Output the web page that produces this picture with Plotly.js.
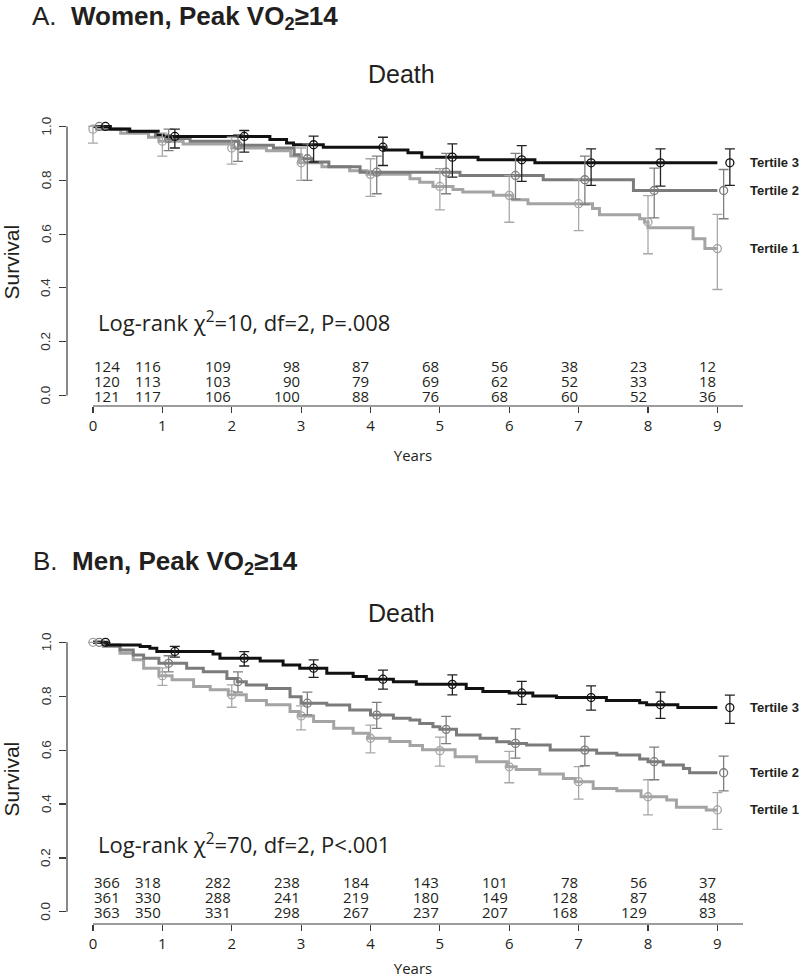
<!DOCTYPE html>
<html>
<head>
<meta charset="utf-8">
<script src="https://cdn.plot.ly/plotly-3.0.1.min.js"></script>
<style>
  html, body { margin: 0; padding: 0; background: #ffffff; }
  #chart { width: 800px; height: 978px; }
</style>
</head>
<body>
<div id="chart"></div>
<script>
// ---------------- DATA ----------------
const years = [0, 1, 2, 3, 4, 5, 6, 7, 8, 9];
const tertileNames = ["Tertile 1", "Tertile 2", "Tertile 3"];

// Panel A: Women — Kaplan-Meier step curves (time in years, survival)
const womenT1Time = [0, 0.05, 0.4, 0.8, 0.95, 1.3, 2.0, 2.5, 2.85, 2.97, 3.3, 3.7, 3.95, 4.57, 4.71, 4.9, 5.19, 5.33, 5.77, 6.05, 6.27, 7.2, 7.3, 7.88, 7.95, 8.0, 8.65, 8.82, 9.0];
const womenT1Surv = [1, 0.99, 0.975, 0.96, 0.945, 0.935, 0.92, 0.91, 0.89, 0.865, 0.85, 0.835, 0.822, 0.806, 0.793, 0.777, 0.766, 0.756, 0.744, 0.728, 0.713, 0.695, 0.672, 0.657, 0.645, 0.624, 0.583, 0.546, 0.546];
const womenT2Time = [0, 0.15, 0.5, 0.9, 1.05, 1.4, 2.1, 2.6, 2.9, 3.0, 3.15, 3.4, 3.85, 5.29, 6.49, 7.79, 9.0];
const womenT2Surv = [1, 0.99, 0.98, 0.965, 0.955, 0.945, 0.93, 0.92, 0.895, 0.88, 0.868, 0.85, 0.83, 0.818, 0.802, 0.762, 0.762];
const womenT3Time = [0, 0.25, 0.53, 0.94, 1.01, 2.55, 2.79, 2.89, 3.32, 4.2, 4.54, 4.74, 5.55, 6.37, 9.0];
const womenT3Surv = [1, 0.991, 0.982, 0.97, 0.963, 0.952, 0.939, 0.932, 0.923, 0.913, 0.902, 0.886, 0.876, 0.865, 0.865];

// Panel A: yearly estimates with confidence limits
const womenT1Est = [0.99, 0.945, 0.92, 0.865, 0.822, 0.777, 0.744, 0.713, 0.645, 0.546];
const womenT1Upper = [1.0, 0.975, 0.96, 0.92, 0.88, 0.843, 0.817, 0.805, 0.743, 0.673];
const womenT1Lower = [0.938, 0.89, 0.86, 0.80, 0.74, 0.69, 0.644, 0.613, 0.527, 0.394];
const womenT2Est = [1.0, 0.955, 0.93, 0.88, 0.83, 0.83, 0.818, 0.802, 0.762, 0.762];
const womenT2Upper = [1.0, 0.99, 0.97, 0.935, 0.89, 0.90, 0.90, 0.89, 0.845, 0.84];
const womenT2Lower = [1.0, 0.91, 0.87, 0.80, 0.75, 0.75, 0.73, 0.71, 0.66, 0.657];
const womenT3Est = [1.0, 0.963, 0.963, 0.932, 0.923, 0.886, 0.876, 0.865, 0.865, 0.865];
const womenT3Upper = [1.0, 0.99, 0.985, 0.964, 0.96, 0.935, 0.929, 0.917, 0.917, 0.917];
const womenT3Lower = [1.0, 0.92, 0.905, 0.868, 0.855, 0.812, 0.796, 0.781, 0.778, 0.781];

// Panel A: numbers at risk
const womenRisk1 = [124, 116, 109, 98, 87, 68, 56, 38, 23, 12];
const womenRisk2 = [120, 113, 103, 90, 79, 69, 62, 52, 33, 18];
const womenRisk3 = [121, 117, 106, 100, 88, 76, 68, 60, 52, 36];

// Panel B: Men — Kaplan-Meier step curves
const menT1Time = [0, 0.15, 0.39, 0.58, 0.73, 0.95, 1.14, 1.45, 1.69, 1.95, 2.21, 2.5, 2.84, 2.97, 3.18, 3.47, 3.75, 3.97, 4.28, 4.57, 4.75, 5.22, 5.53, 5.97, 6.1, 6.44, 6.78, 6.95, 7.21, 7.55, 7.9, 8.27, 8.41, 8.84, 9.0];
const menT1Surv = [1, 0.984, 0.959, 0.935, 0.904, 0.876, 0.861, 0.836, 0.824, 0.805, 0.784, 0.768, 0.743, 0.727, 0.706, 0.681, 0.663, 0.644, 0.632, 0.617, 0.601, 0.575, 0.557, 0.538, 0.528, 0.511, 0.495, 0.483, 0.458, 0.449, 0.427, 0.415, 0.388, 0.378, 0.378];
const menT2Time = [0, 0.15, 0.39, 0.58, 0.73, 0.95, 1.35, 1.59, 1.93, 2.08, 2.21, 2.5, 2.84, 3.0, 3.37, 3.7, 4.0, 4.33, 4.57, 4.71, 4.9, 5.0, 5.24, 5.58, 5.82, 6.0, 6.25, 6.59, 7.26, 7.55, 7.88, 8.0, 8.22, 8.51, 8.6, 9.0];
const menT2Surv = [1, 0.99, 0.971, 0.953, 0.941, 0.922, 0.904, 0.891, 0.866, 0.854, 0.842, 0.829, 0.798, 0.774, 0.767, 0.749, 0.730, 0.718, 0.712, 0.699, 0.687, 0.677, 0.656, 0.644, 0.631, 0.625, 0.619, 0.600, 0.588, 0.582, 0.567, 0.557, 0.545, 0.532, 0.516, 0.516];
const menT3Time = [0, 0.2, 0.68, 0.82, 0.92, 1.73, 1.83, 2.41, 2.74, 2.98, 3.37, 3.75, 3.94, 4.33, 4.66, 5.38, 5.62, 6.0, 6.34, 6.68, 7.4, 7.88, 7.98, 8.43, 9.0];
const menT3Surv = [1, 0.99, 0.984, 0.978, 0.966, 0.957, 0.941, 0.931, 0.916, 0.904, 0.885, 0.873, 0.863, 0.854, 0.844, 0.829, 0.817, 0.812, 0.801, 0.795, 0.784, 0.776, 0.768, 0.758, 0.758];

// Panel B: yearly estimates with confidence limits
const menT1Est = [1.0, 0.876, 0.805, 0.727, 0.644, 0.598, 0.538, 0.483, 0.427, 0.378];
const menT1Upper = [1.0, 0.905, 0.842, 0.764, 0.693, 0.648, 0.595, 0.539, 0.490, 0.442];
const menT1Lower = [1.0, 0.84, 0.759, 0.675, 0.590, 0.541, 0.479, 0.418, 0.360, 0.306];
const menT2Est = [1.0, 0.922, 0.854, 0.774, 0.730, 0.677, 0.625, 0.600, 0.557, 0.516];
const menT2Upper = [1.0, 0.95, 0.89, 0.815, 0.777, 0.725, 0.679, 0.651, 0.611, 0.578];
const menT2Lower = [1.0, 0.89, 0.815, 0.731, 0.681, 0.624, 0.570, 0.542, 0.490, 0.449];
const menT3Est = [1.0, 0.966, 0.941, 0.904, 0.863, 0.844, 0.812, 0.795, 0.768, 0.758];
const menT3Upper = [1.0, 0.985, 0.965, 0.935, 0.897, 0.879, 0.855, 0.838, 0.815, 0.804];
const menT3Lower = [1.0, 0.945, 0.912, 0.87, 0.826, 0.805, 0.77, 0.748, 0.718, 0.699];

// Panel B: numbers at risk
const menRisk1 = [366, 318, 282, 238, 184, 143, 101, 78, 56, 37];
const menRisk2 = [361, 330, 288, 241, 219, 180, 149, 128, 87, 48];
const menRisk3 = [363, 350, 331, 298, 267, 237, 207, 168, 129, 83];

const yTickVals = [0, 0.2, 0.4, 0.6, 0.8, 1.0];
const yTickText = ["0.0", "0.2", "0.4", "0.6", "0.8", "1.0"];

// ---------------- STYLE ----------------
const lineColors = ["#a4a4a4", "#7b7b7b", "#111111"];
const barColors = ["#a8a8a8", "#7e7e7e", "#222222"];
const markOffset = [0, 0.09, 0.18];
const textColor = "#231f20";
const arial = "Liberation Sans, Arial, sans-serif";
const myriad = "Open Sans, sans-serif";

function panelTraces(curves, ests, xa, ya) {
  const traces = [];
  curves.forEach((c, i) => {
    traces.push({
      type: "scatter", mode: "lines", x: c.t, y: c.s, xaxis: xa, yaxis: ya,
      line: { shape: "hv", color: lineColors[i], width: 3 },
      name: tertileNames[i], showlegend: false, hoverinfo: "skip"
    });
  });
  ests.forEach((e, i) => {
    traces.push({
      type: "scatter", mode: "markers",
      x: years.map(v => v + markOffset[i]), y: e.est, xaxis: xa, yaxis: ya,
      marker: { symbol: "circle-open", size: 8, color: lineColors[i], line: { width: 1.3, color: barColors[i] } },
      error_y: {
        type: "data", symmetric: false,
        array: e.up.map((u, k) => u - e.est[k]),
        arrayminus: e.lo.map((l, k) => e.est[k] - l),
        color: barColors[i], thickness: 1.3, width: 5
      },
      cliponaxis: false, showlegend: false, hoverinfo: "skip"
    });
  });
  return traces;
}

const traces = [].concat(
  panelTraces(
    [{ t: womenT1Time, s: womenT1Surv }, { t: womenT2Time, s: womenT2Surv }, { t: womenT3Time, s: womenT3Surv }],
    [{ est: womenT1Est, up: womenT1Upper, lo: womenT1Lower },
     { est: womenT2Est, up: womenT2Upper, lo: womenT2Lower },
     { est: womenT3Est, up: womenT3Upper, lo: womenT3Lower }],
    "x", "y"),
  panelTraces(
    [{ t: menT1Time, s: menT1Surv }, { t: menT2Time, s: menT2Surv }, { t: menT3Time, s: menT3Surv }],
    [{ est: menT1Est, up: menT1Upper, lo: menT1Lower },
     { est: menT2Est, up: menT2Upper, lo: menT2Lower },
     { est: menT3Est, up: menT3Upper, lo: menT3Lower }],
    "x2", "y2")
);

// ---------------- ANNOTATIONS ----------------
const annotations = [];
function riskRows(rows, xref, yref) {
  const levels = [0.109, 0.0545, 0.0];
  rows.forEach((row, r) => {
    row.forEach((n, k) => {
      annotations.push({
        xref: xref, yref: yref, x: years[k], y: levels[r],
        text: String(n), showarrow: false,
        xanchor: k === 0 ? "left" : "right", yanchor: "middle",
        font: { family: myriad, size: 15, color: textColor }, borderpad: 0
      });
    });
  });
}
riskRows([womenRisk1, womenRisk2, womenRisk3], "x", "y");
riskRows([menRisk1, menRisk2, menRisk3], "x2", "y2");

function tertileLabels(finals, xref, yref) {
  finals.forEach((v, i) => {
    annotations.push({
      xref: xref, yref: yref, x: 9.44, y: v, text: "<b>" + tertileNames[i] + "</b>",
      showarrow: false, xanchor: "left", yanchor: "middle",
      font: { family: arial, size: 13, color: textColor }
    });
  });
}
tertileLabels([womenT1Est[9], womenT2Est[9], womenT3Est[9]], "x", "y");
tertileLabels([menT1Est[9], menT2Est[9], menT3Est[9]], "x2", "y2");

function yTickLabels(yref) {
  yTickVals.forEach((v, i) => {
    annotations.push({
      xref: "paper", yref: yref, x: 46 / 800, y: v, text: yTickText[i],
      textangle: -90, showarrow: false, xanchor: "center", yanchor: "middle",
      font: { family: arial, size: 13.5, color: "#333333" }, borderpad: 0
    });
  });
}
yTickLabels("y");
yTickLabels("y2");

annotations.push(
  { xref: "x", yref: "y", x: 0.05, y: 0.275, text: "Log-rank χ<sup>2</sup>=10, df=2, P=.008", showarrow: false,
    xanchor: "left", yanchor: "middle", font: { family: myriad, size: 22, color: textColor } },
  { xref: "x2", yref: "y2", x: 0.05, y: 0.255, text: "Log-rank χ<sup>2</sup>=70, df=2, P<.001", showarrow: false,
    xanchor: "left", yanchor: "middle", font: { family: myriad, size: 22, color: textColor } },
  { xref: "paper", yref: "paper", x: 401 / 800, y: 1 - 74 / 978, text: "Death", showarrow: false,
    xanchor: "center", yanchor: "middle", font: { family: arial, size: 25, color: textColor } },
  { xref: "paper", yref: "paper", x: 401 / 800, y: 1 - 613 / 978, text: "Death", showarrow: false,
    xanchor: "center", yanchor: "middle", font: { family: arial, size: 25, color: textColor } },
  { xref: "paper", yref: "paper", x: 31 / 800, y: 1,
    text: "A.  <b>Women, Peak VO<sub>2</sub>≥14</b>", showarrow: false, borderpad: 0,
    xanchor: "left", yanchor: "top", font: { family: arial, size: 26, color: textColor } },
  { xref: "paper", yref: "paper", x: 31 / 800, y: 1 - 562 / 978,
    text: "B.  <b>Men, Peak VO<sub>2</sub>≥14</b>", showarrow: false,
    xanchor: "left", yanchor: "middle", font: { family: arial, size: 26, color: textColor } }
);

// ---------------- AXES ----------------
const axisLine = { color: "#3a3a3a", width: 1.2 };
function xAxis(anchor) {
  return {
    anchor: anchor, domain: [67 / 800, 759 / 800], range: [-0.3746, 9.6],
    tickmode: "array", tickvals: years, ticktext: years.map(String),
    ticks: "outside", ticklen: 6, tickwidth: 1.1, tickcolor: "#3a3a3a",
    showline: false, showgrid: false, zeroline: false, automargin: false,
    tickfont: { family: myriad, size: 15, color: textColor },
    title: { text: "Years", font: { family: myriad, size: 15, color: textColor }, standoff: 16 }
  };
}
function yAxis(anchor, domain, range) {
  return {
    anchor: anchor, domain: domain, range: range,
    tickmode: "array", tickvals: yTickVals, showticklabels: false,
    ticks: "outside", ticklen: 7, tickwidth: 1.1, tickcolor: "#3a3a3a",
    showline: false, showgrid: false, zeroline: false, automargin: false,
    title: { text: "Survival", font: { family: arial, size: 21, color: textColor }, standoff: 36 }
  };
}

const layout = {
  width: 800, height: 978,
  margin: { l: 0, r: 0, t: 0, b: 0 },
  paper_bgcolor: "#ffffff", plot_bgcolor: "#ffffff",
  showlegend: false,
  xaxis: xAxis("y"),
  yaxis: yAxis("x", [1 - 406 / 978, 1 - 118.4 / 978], [-0.039, 1.03]),
  xaxis2: xAxis("y2"),
  yaxis2: yAxis("x2", [1 - 924 / 978, 1 - 634.2 / 978], [-0.045, 1.03]),
  annotations: annotations,
  shapes: [
    { type: "line", xref: "x domain", yref: "y", x0: 0, x1: 0, y0: 0, y1: 1, line: axisLine },
    { type: "line", xref: "x", yref: "y domain", x0: 0, x1: 9.37, y0: 0, y1: 0, line: axisLine },
    { type: "line", xref: "x2 domain", yref: "y2", x0: 0, x1: 0, y0: 0, y1: 1, line: axisLine },
    { type: "line", xref: "x2", yref: "y2 domain", x0: 0, x1: 9.37, y0: 0, y1: 0, line: axisLine }
  ]
};

Plotly.newPlot("chart", traces, layout, { staticPlot: true, displayModeBar: false });
</script>
</body>
</html>
